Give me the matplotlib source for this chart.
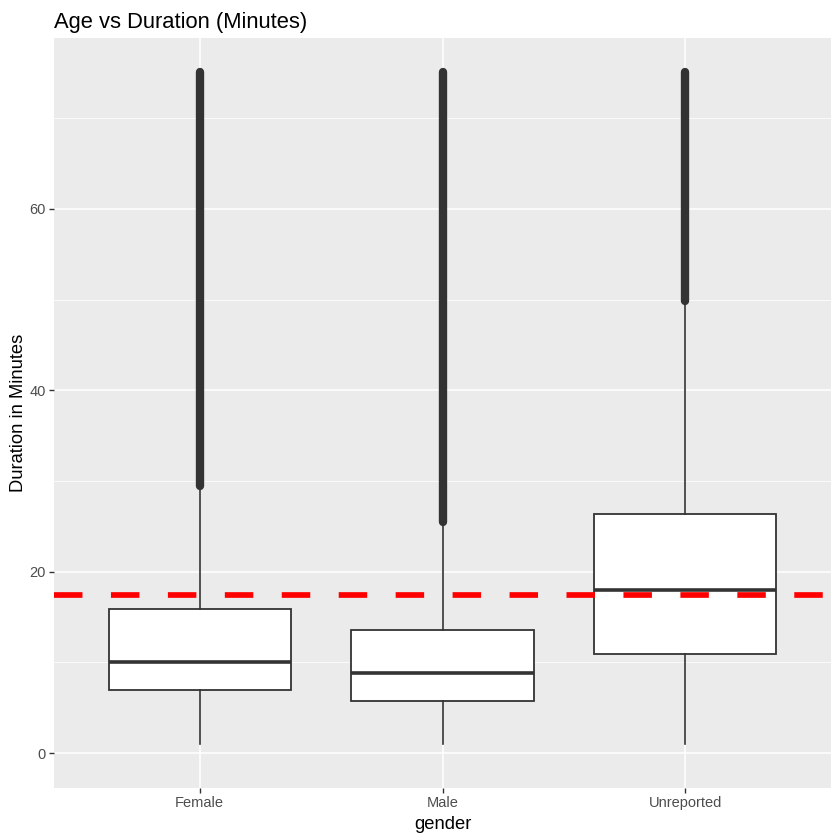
import numpy as np
import matplotlib.pyplot as plt

# box stats (minutes)
genders = ['Female', 'Male', 'Unreported']
whisk_low = [1.0, 1.0, 1.0]
q1 = [6.9, 5.7, 10.9]
median = [10.0, 8.8, 18.0]
q3 = [15.9, 13.6, 26.4]
whisk_high = [29.3, 25.3, 49.6]
# outliers form a solid band of points between these values
outlier_low = [29.5, 25.5, 49.8]
outlier_high = [75.1, 75.1, 75.1]
mean_duration = 17.4

plt.rcParams['font.family'] = ['Liberation Sans', 'DejaVu Sans']
plt.rcParams['lines.scale_dashes'] = False

fig = plt.figure(figsize=(8.4, 8.4), dpi=100)
ax = fig.add_axes([54 / 840, 1 - 788 / 840, 777 / 840, 750 / 840])
ax.set_facecolor('#EBEBEB')

pos = np.arange(1, len(genders) + 1)

# grid
for y in [10, 30, 50, 70]:
    ax.axhline(y, color='white', lw=0.55, zorder=0)
for y in [0, 20, 40, 60]:
    ax.axhline(y, color='white', lw=1.1, zorder=0)
for x in pos:
    ax.axvline(x, color='white', lw=1.1, zorder=0)

stats = []
for i in range(len(genders)):
    stats.append(dict(med=median[i], q1=q1[i], q3=q3[i],
                      whislo=whisk_low[i], whishi=whisk_high[i], fliers=[]))

edge = '#333333'
ax.bxp(stats, positions=pos, widths=0.75, showcaps=False, patch_artist=True,
       boxprops=dict(facecolor='white', edgecolor=edge, lw=1.3),
       whiskerprops=dict(color=edge, lw=1.2),
       medianprops=dict(color=edge, lw=2.6, solid_capstyle='butt'),
       zorder=2)

# outlier band
for i in range(len(genders)):
    ax.plot([pos[i], pos[i]], [outlier_low[i], outlier_high[i]], color=edge,
            lw=6.0, solid_capstyle='round', zorder=3)

ax.axhline(mean_duration, color='#FF0000', lw=4.1,
           linestyle=(0, (20.5, 20.5)), dash_capstyle='butt', zorder=4)

ax.set_xlim(0.4, 3.6)
ax.set_ylim(-3.86, 78.86)
ax.set_yticks([0, 20, 40, 60])
ax.set_xticks(pos)
ax.set_xticklabels(genders)
ax.tick_params(axis='both', colors='#333333', length=3.3, width=1.0,
               labelsize=10.5, labelcolor='#4D4D4D', pad=2.5)
for s in ax.spines.values():
    s.set_visible(False)

ax.set_xlabel('gender', fontsize=13.2, color='black', labelpad=4)
ax.set_ylabel('Duration in Minutes', fontsize=13.2, color='black', labelpad=2)
ax.set_title('Age vs Duration (Minutes)', fontsize=15.8, loc='left', pad=7)

fig.savefig('out.png', dpi=100)
